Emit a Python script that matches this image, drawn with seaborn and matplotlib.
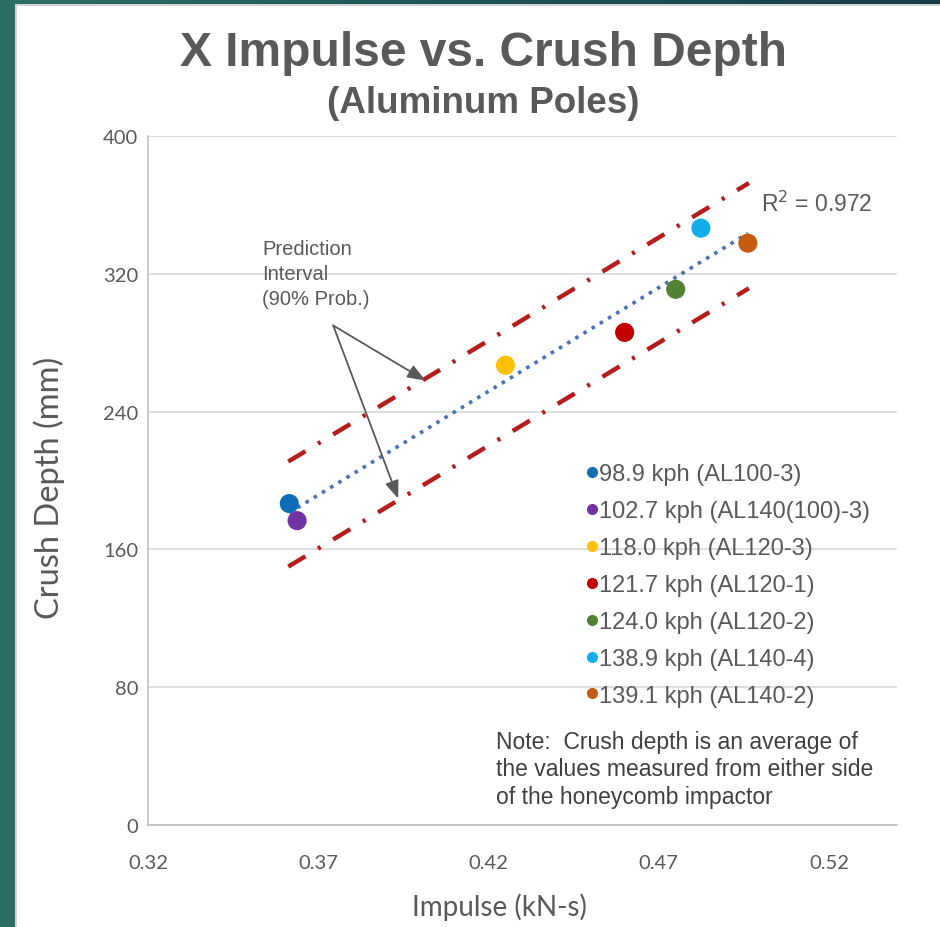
import numpy as np
import pandas as pd
import matplotlib
matplotlib.use("Agg")
import matplotlib.pyplot as plt
import seaborn as sns
from matplotlib.lines import Line2D
from matplotlib.ticker import MultipleLocator, FixedLocator
from matplotlib.colors import LinearSegmentedColormap

# ---------------- data ----------------
labels = ["98.9 kph (AL100-3)", "102.7 kph (AL140(100)-3)", "118.0 kph (AL120-3)",
          "121.7 kph (AL120-1)", "124.0 kph (AL120-2)", "138.9 kph (AL140-4)",
          "139.1 kph (AL140-2)"]
impulse = [0.3615, 0.3638, 0.425, 0.460, 0.475, 0.4824, 0.4962]
crush = [186.6, 176.7, 266.9, 286.0, 311.0, 346.5, 337.8]
colors = ["#0F6DB8", "#7132A3", "#FFC000", "#C00000", "#548235", "#13AEEA", "#C55A11"]

pi_x = [0.3612, 0.4965]
pi_upper = [211.0, 372.7]
pi_lower = [150.0, 311.6]

x_ticks = [0.32, 0.37, 0.42, 0.47, 0.52]
y_ticks = [0, 80, 160, 240, 320, 400]
r2_text = "R$^2$ = 0.972"

df = pd.DataFrame({"impulse": impulse, "crush": crush, "label": labels})

# ---------------- figure ----------------
sns.set_theme(style="white")
plt.rcParams["font.family"] = ["Liberation Sans", "DejaVu Sans"]

W, H = 940, 928
fig = plt.figure(figsize=(W / 100, H / 100), dpi=100)
fig.patch.set_facecolor("white")

# teal frame (left strip + top gradient strip)
fig.patches.append(plt.Rectangle((0, 0), 15 / W, 1, transform=fig.transFigure,
                                 facecolor="#2E6D66", edgecolor="none", zorder=0))
fig.patches.append(plt.Rectangle((15 / W, 0), 2 / W, 1 - 5 / H, transform=fig.transFigure,
                                 facecolor="#D0D4D4", edgecolor="none", zorder=0))
gax = fig.add_axes([0, 1 - 5 / H, 1, 5 / H])
grad = np.linspace(0, 1, 256).reshape(1, -1)
cmap = LinearSegmentedColormap.from_list("tg", ["#2E6D66", "#1E5458", "#163C4C"])
gax.imshow(grad, aspect="auto", cmap=cmap)
gax.set_axis_off()
fig.patches.append(plt.Rectangle((15 / W, 1 - 7 / H), 1, 2 / H, transform=fig.transFigure,
                                 facecolor="#D0D4D4", edgecolor="none", zorder=0))

ax = fig.add_axes([148 / W, 1 - 826 / H, (897 - 148) / W, (826 - 137) / H])
ax.set_facecolor("white")

# trend line
sns.regplot(data=df, x="impulse", y="crush", scatter=False, ci=None, ax=ax,
            line_kws=dict(color="#4A72B5", lw=2.6, ls=":", zorder=2))

# prediction interval lines
dashdot = (0, (4.5, 3.3, 0.7, 3.3))
ax.plot(pi_x, pi_upper, color="#B71C1C", lw=3.2, ls=dashdot, zorder=2)
ax.plot(pi_x, pi_lower, color="#B71C1C", lw=3.2, ls=dashdot, zorder=2)

# points
sns.scatterplot(data=df, x="impulse", y="crush", hue="label", palette=dict(zip(labels, colors)),
                s=190, edgecolor="none", legend=False, ax=ax, zorder=3)

# axes formatting
ax.set_xlim(0.32, 0.54)
ax.set_ylim(0, 400)
ax.xaxis.set_major_locator(FixedLocator(x_ticks))
ax.yaxis.set_major_locator(FixedLocator(y_ticks))
ax.xaxis.set_minor_locator(MultipleLocator(0.01))
ax.yaxis.set_minor_locator(MultipleLocator(16))
ax.set_xticklabels([f"{v:.2f}" for v in x_ticks])
ax.set_yticklabels([str(v) for v in y_ticks])
ax.tick_params(axis="both", which="major", length=0, labelsize=14.5, labelcolor="#595959")
ax.tick_params(axis="x", which="major", pad=21)
ax.tick_params(axis="y", which="major", pad=7)
ax.tick_params(axis="both", which="minor", direction="in", length=6, width=1, color="#BFBFBF")
for lab in ax.get_xticklabels() + ax.get_yticklabels():
    lab.set_family(["Lato", "DejaVu Sans"])

ax.grid(axis="y", color="#D9D9D9", lw=1.2)
ax.grid(axis="x", visible=False)
for s in ["top", "right"]:
    ax.spines[s].set_visible(False)
for s in ["left", "bottom"]:
    ax.spines[s].set_color("#BFBFBF")
    ax.spines[s].set_linewidth(1.2)

ax.set_xlabel("Impulse (kN-s)", fontsize=20, color="#595959", family=["Lato", "DejaVu Sans"])
ax.set_ylabel("Crush Depth (mm)", fontsize=23.5, color="#595959", family=["Lato", "DejaVu Sans"])
ax.xaxis.set_label_coords((499 - 148) / 749, -(893 - 826) / 689)
ax.yaxis.set_label_coords((65 - 148) / 749, (826 - 488) / 689)

# titles
fig.text(483 / W, 1 - 54 / H, "X Impulse vs. Crush Depth", ha="center", va="center",
         fontsize=34.5, fontweight="bold", color="#595959",
         family=["Liberation Sans Narrow", "Liberation Sans", "DejaVu Sans"])
fig.text(483 / W, 1 - 104 / H, "(Aluminum Poles)", ha="center", va="center",
         fontsize=26.5, fontweight="bold", color="#595959",
         family=["Liberation Sans Narrow", "Liberation Sans", "DejaVu Sans"])

# annotations
ax.text(0.3535, 340, "Prediction\nInterval\n(90% Prob.)", fontsize=14.5, color="#595959",
        va="top", ha="left", linespacing=1.4)
arrow_kw = dict(arrowstyle="-|>,head_length=0.9,head_width=0.35", color="#595959", lw=1.3,
                shrinkA=0, shrinkB=0)
ax.annotate("", xy=(0.4015, 258), xytext=(0.3744, 290), arrowprops=arrow_kw)
ax.annotate("", xy=(0.3935, 189.5), xytext=(0.3744, 290), arrowprops=arrow_kw)
ax.text(0.5, 361, r2_text, fontsize=16.5, color="#595959", ha="left", va="center")

ax.text(0.4221, 32.6, "Note:  Crush depth is an average of\nthe values measured from either side\nof the honeycomb impactor",
        fontsize=16.5, color="#404040", ha="left", va="center", linespacing=1.25)

# legend
handles = [Line2D([0], [0], marker="o", ls="none", markersize=8, markerfacecolor=c,
                  markeredgecolor="none") for c in colors]
leg = ax.legend(handles, labels, loc="upper left", bbox_to_anchor=((577 - 148) / 749, (826 - 455) / 689),
                frameon=False, fontsize=17, labelcolor="#595959", handlelength=0.5,
                handletextpad=0.05, labelspacing=0.63, borderaxespad=0)

fig.savefig("out.png", dpi=100, facecolor="white")
